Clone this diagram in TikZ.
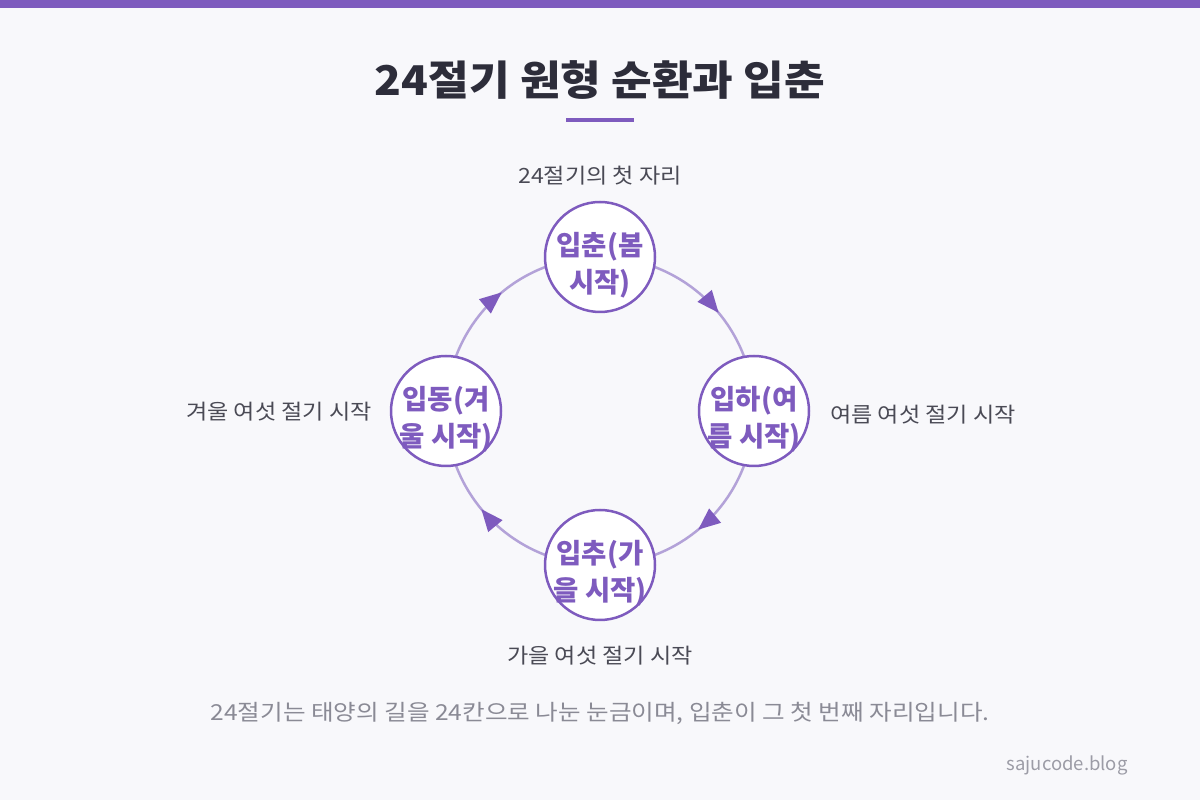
\documentclass[tikz,border=0pt]{standalone}
\usepackage{fontspec}
\setmainfont{Noto Sans CJK KR}
\newfontfamily\kr[WordSpace=2.5]{Noto Sans CJK KR}
\newfontfamily\krt[WordSpace=3.5]{Noto Sans CJK KR}
\newfontfamily\krl[WordSpace=4]{Noto Sans CJK KR}
\newfontfamily\krlat{Noto Sans CJK KR}
\usetikzlibrary{arrows.meta,decorations.markings}
\definecolor{bgc}{HTML}{F8F8FB}
\definecolor{purp}{HTML}{7E5BBE}
\definecolor{ringc}{HTML}{B3A2D8}
\definecolor{titlec}{HTML}{2D2D3A}
\definecolor{labc}{HTML}{4A4A55}
\definecolor{notec}{HTML}{8A8A95}
\definecolor{markc}{HTML}{9C9CA6}
\tikzset{
  season/.style={circle,draw=purp,line width=2.5pt,fill=white,minimum size=110pt,inner sep=0pt},
  seasontext/.style={align=center,text=purp,inner sep=0pt,yshift=-8pt,font=\kr\bfseries\fontsize{27.5}{37}\selectfont},
  ringarc/.style={draw=ringc,line width=2.5pt,
    postaction={decorate,decoration={markings,mark=at position 0.56 with {\arrow[purp]{Triangle[length=22pt,width=18pt]}}}}},
  lab/.style={text=labc,font=\krl\fontsize{21}{24}\selectfont,inner sep=0pt,xscale=1.1,transform shape},
}
\begin{document}
\begin{tikzpicture}[x=1pt,y=1pt]
\useasboundingbox (0,0) rectangle (1200,800);
\fill[bgc] (0,0) rectangle (1200,800);
\fill[purp] (0,792) rectangle (1200,800);
\node[text=titlec,font=\krt\bfseries\fontsize{41}{44}\selectfont,xscale=1.078,transform shape] (title) at (600,720) {24절기 원형 순환과 입춘};
\coordinate (ul1) at (566,680);
\coordinate (ul2) at (634,680);
\draw[purp,line width=4pt] (ul1) -- (ul2);
\coordinate (c) at (600,389);
\coordinate (pt) at (600,543);
\coordinate (pr) at (754,389);
\coordinate (pb) at (600,235);
\coordinate (pl) at (446,389);
\path[ringarc] (pt) arc[start angle=90,end angle=0,radius=154];
\path[ringarc] (pr) arc[start angle=0,end angle=-90,radius=154];
\path[ringarc] (pb) arc[start angle=-90,end angle=-180,radius=154];
\path[ringarc] (pl) arc[start angle=180,end angle=90,radius=154];
\node[season,label={[seasontext]center:{입춘(봄\\시작)}}] (top) at (pt) {};
\node[season,label={[seasontext]center:{입하(여\\름 시작)}}] (right) at (pr) {};
\node[season,label={[seasontext]center:{입추(가\\을 시작)}}] (bottom) at (pb) {};
\node[season,label={[seasontext]center:{입동(겨\\울 시작)}}] (left) at (pl) {};
\node[lab] (ltop) at (600,624) {24절기의 첫 자리};
\node[lab,anchor=west] (lright) at (830,385) {여름 여섯 절기 시작};
\node[lab,anchor=east] (lleft) at (372,388) {겨울 여섯 절기 시작};
\node[lab] (lbottom) at (600,144) {가을 여섯 절기 시작};
\node[text=notec,font=\krl\fontsize{22}{24}\selectfont,xscale=1.117,transform shape] (note) at (600,87) {24절기는 태양의 길을 24칸으로 나눈 눈금이며, 입춘이 그 첫 번째 자리입니다.};
\node[text=markc,font=\krlat\fontsize{18.5}{20}\selectfont,anchor=east] (mark) at (1131,35) {sajucode.blog};
\end{tikzpicture}
\end{document}
